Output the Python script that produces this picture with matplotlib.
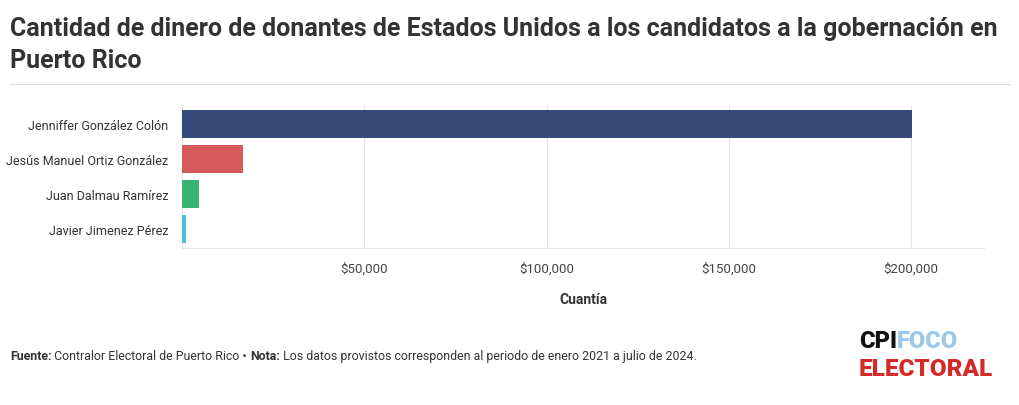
import matplotlib.pyplot as plt
from matplotlib.ticker import FuncFormatter

# data
candidates = ["Jenniffer González Colón", "Jesús Manuel Ortiz González",
              "Juan Dalmau Ramírez", "Javier Jimenez Pérez"]
amounts = [200300, 16700, 4700, 1100]
colors = ["#2b4172", "#d65252", "#2eae6a", "#3dbfd9"]
x_ticks = [50000, 100000, 150000, 200000]

plt.rcParams['font.family'] = ['Roboto', 'DejaVu Sans']

fig = plt.figure(figsize=(10.2, 4.06), dpi=100)
W, H = 1020, 406
ax = fig.add_axes([182 / W, 1 - 249 / H, (984 - 182) / W, (249 - 106) / H])

ax.barh(range(len(candidates)), amounts, height=0.8, color=colors, alpha=0.95, zorder=3)
ax.set_ylim(3.55, -0.55)
ax.set_xlim(0, 220000)
ax.set_yticks(range(len(candidates)))
ax.set_yticklabels(candidates, fontsize=9, color="#333333")
ax.set_xticks(x_ticks)
ax.xaxis.set_major_formatter(FuncFormatter(lambda v, p: "${:,.0f}".format(v)))
ax.tick_params(axis='x', length=0, pad=10, labelsize=9.5, labelcolor="#444444")
ax.tick_params(axis='y', length=0, pad=10)
ax.grid(axis='x', color="#e6e6e6", linewidth=0.8, zorder=0)
for s in ["top", "right"]:
    ax.spines[s].set_visible(False)
ax.spines["left"].set_color("#e6e6e6")
ax.spines["bottom"].set_color("#e6e6e6")
ax.set_xlabel("Cuantía", fontsize=10, fontweight='bold', color="#333333", labelpad=12)

# title
fig.text(10 / W, 1 - 29 / H, "Cantidad de dinero de donantes de Estados Unidos a los candidatos a la gobernación en",
         fontsize=18, fontweight='bold', color="#333333", va='center', ha='left')
fig.text(10 / W, 1 - 61 / H, "Puerto Rico", fontsize=18, fontweight='bold',
         color="#333333", va='center', ha='left')
fig.add_artist(plt.Line2D([10 / W, 1010 / W], [1 - 85 / H, 1 - 85 / H], color="#dddddd", linewidth=0.8))

# footer
r = fig.canvas.get_renderer()
x = 10
parts = [("Fuente:", 'bold'), (" Contralor Electoral de Puerto Rico • ", 'normal'), ("Nota:", 'bold'),
         (" Los datos provistos corresponden al periodo de enero 2021 a julio de 2024.", 'normal')]
for txt, w in parts:
    t = fig.text(x / W, 1 - 357 / H, txt, fontsize=8.9, fontweight=w, color="#333333", va='center')
    x = t.get_window_extent(r).x1

# logo
fig.text(859 / W, 1 - 342 / H, "CPI", fontsize=17, fontweight='black', color="#111111", va='center')
fig.text(897 / W, 1 - 342 / H, "FOCO", fontsize=17, fontweight='black', color="#9cc8ec", va='center')
fig.text(859 / W, 1 - 370 / H, "ELECTORAL", fontsize=17.5, fontweight='black', color="#d42a2a", va='center')

fig.savefig("out.png", dpi=100)
